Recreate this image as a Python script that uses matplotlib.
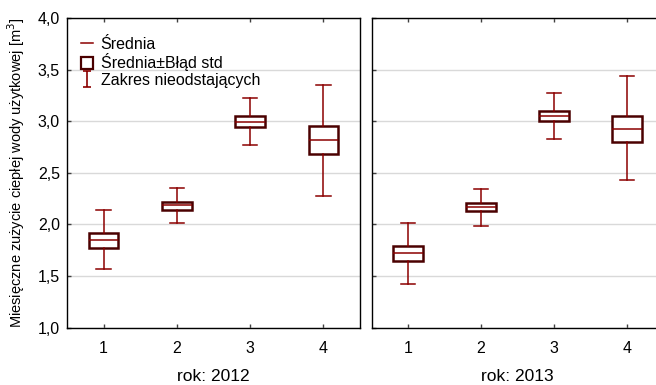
"""
Monthly domestic hot water use per month-group, 2012 vs 2013 (mean, +/- std error, non-outlier range).
"""

import matplotlib

matplotlib.use("Agg")
import matplotlib.pyplot as plt
from matplotlib.lines import Line2D
from matplotlib.path import Path
from matplotlib.ticker import FuncFormatter

plt.rcParams["font.family"] = ["Liberation Sans", "DejaVu Sans"]

groups = [1, 2, 3, 4]
years = ["2012", "2013"]

mean_2012 = [1.845, 2.184, 2.99, 2.82]
se_lo_2012 = [1.775, 2.143, 2.94, 2.685]
se_hi_2012 = [1.917, 2.220, 3.05, 2.955]
min_2012 = [1.568, 2.013, 2.77, 2.275]
max_2012 = [2.143, 2.353, 3.223, 3.35]

mean_2013 = [1.72, 2.17, 3.05, 2.92]
se_lo_2013 = [1.64, 2.13, 3.00, 2.80]
se_hi_2013 = [1.79, 2.21, 3.10, 3.05]
min_2013 = [1.42, 1.98, 2.83, 2.43]
max_2013 = [2.013, 2.34, 3.27, 3.44]

RED = "#8b0000"
DARK = "#4a0000"


def make_stats(mean, lo, hi, wlo, whi):
    return [
        dict(med=m, q1=a, q3=b, whislo=c, whishi=d, fliers=[])
        for m, a, b, c, d in zip(mean, lo, hi, wlo, whi)
    ]


def style_axes(ax, year):
    ax.set_xlim(0.5, 4.5)
    ax.set_ylim(1.0, 4.0)
    ax.set_yticks([1.0, 1.5, 2.0, 2.5, 3.0, 3.5, 4.0])
    ax.yaxis.set_major_formatter(FuncFormatter(lambda v, _: f"{v:.1f}".replace(".", ",")))
    ax.grid(axis="y", color="#d9d9d9", linewidth=1.0)
    ax.set_axisbelow(True)
    ax.tick_params(direction="in", length=3, width=1, top=True, labelsize=11.5,
                   color="#404040")
    ax.tick_params(axis="x", pad=10)
    ax.tick_params(axis="y", pad=5)
    for s in ax.spines.values():
        s.set_linewidth(1.0)
    ax.set_xlabel(f"rok: {year}", fontsize=12.5, labelpad=9)


fig = plt.figure(figsize=(6.56, 3.85), dpi=100)
ax1 = fig.add_axes([67 / 656, 57.5 / 385, 293 / 656, 309.5 / 385])
ax2 = fig.add_axes([371.5 / 656, 57.5 / 385, 292 / 656, 309.5 / 385])

data = [
    (ax1, make_stats(mean_2012, se_lo_2012, se_hi_2012, min_2012, max_2012), years[0]),
    (ax2, make_stats(mean_2013, se_lo_2013, se_hi_2013, min_2013, max_2013), years[1]),
]

for ax, stats, year in data:
    ax.bxp(
        stats,
        positions=groups,
        widths=0.4,
        capwidths=0.2,
        showfliers=False,
        patch_artist=True,
        boxprops=dict(facecolor="white", edgecolor=DARK, linewidth=1.8),
        whiskerprops=dict(color=RED, linewidth=1.1),
        capprops=dict(color=RED, linewidth=1.1),
        medianprops=dict(color=RED, linewidth=1.1),
    )
    ax.set_xticks(groups)
    ax.set_xticklabels([str(g) for g in groups])
    style_axes(ax, year)

ax2.tick_params(labelleft=False)
ax1.set_ylabel("Miesięczne zużycie ciepłej wody użytkowej [m$^3$]", fontsize=10.5, labelpad=8)

# I-shaped glyph for the whisker range entry
ibar = Path(
    [(-0.5, 1), (0.5, 1), (0, 1), (0, -1), (-0.5, -1), (0.5, -1)],
    [Path.MOVETO, Path.LINETO, Path.MOVETO, Path.LINETO, Path.MOVETO, Path.LINETO],
)
handles = [
    Line2D([], [], color=RED, linewidth=1.1),
    Line2D([], [], linestyle="none", marker="s", markersize=9, markerfacecolor="white",
           markeredgecolor=DARK, markeredgewidth=1.6),
    Line2D([], [], linestyle="none", marker=ibar, markersize=11, color=RED,
           markeredgewidth=1.2),
]
labels = ["Średnia", "Średnia±Błąd std", "Zakres nieodstających"]
ax1.legend(handles, labels, loc="upper left", bbox_to_anchor=(0.0, 0.985), frameon=False,
           fontsize=11.5, handlelength=0.7, handletextpad=0.5, labelspacing=0.08,
           borderaxespad=0.5)

fig.savefig("out.png", dpi=100)
